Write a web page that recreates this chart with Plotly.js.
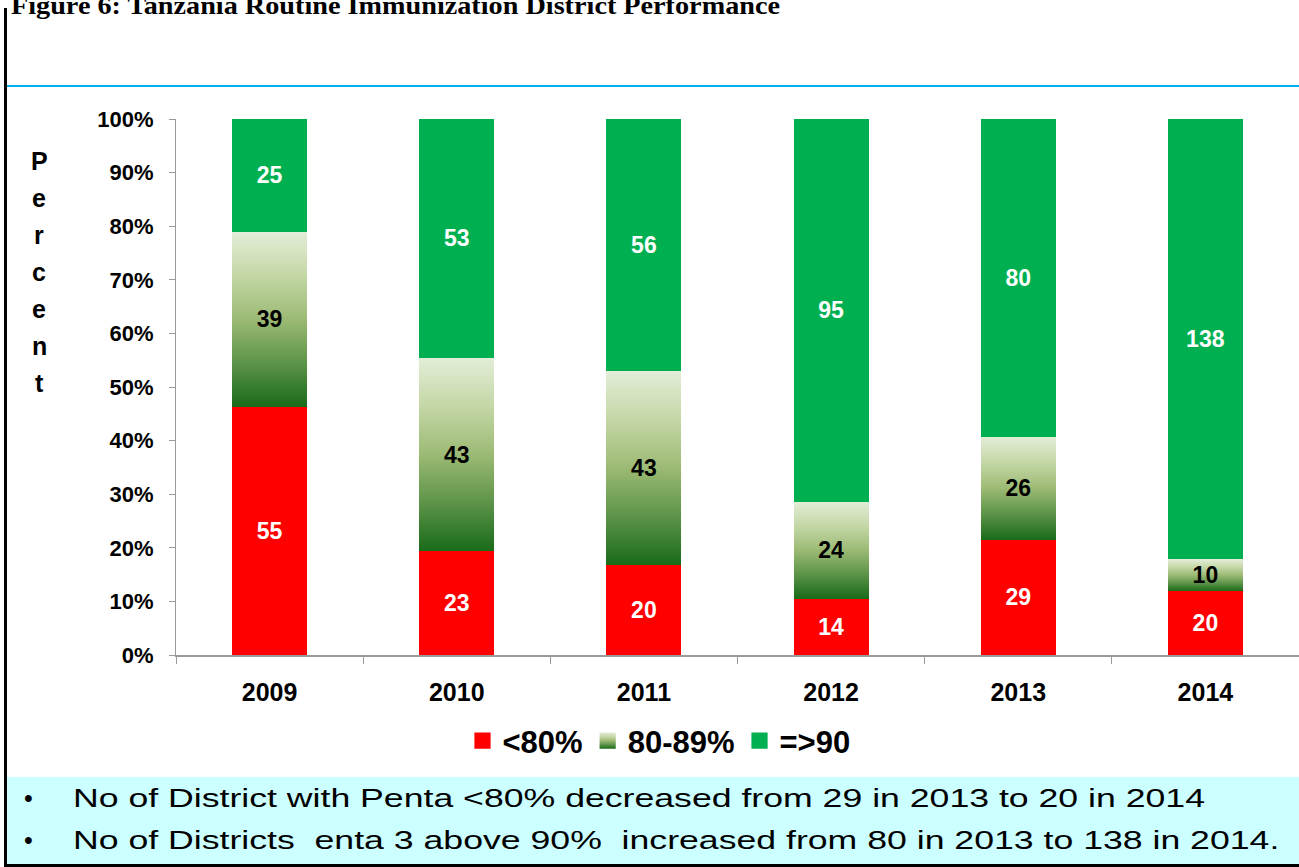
<!DOCTYPE html>
<html>
<head>
<meta charset="utf-8">
<script src="https://cdn.plot.ly/plotly-3.0.1.min.js"></script>
<style>
  html, body { margin:0; padding:0; background:#fff; }
  #wrap { position:relative; width:1299px; height:867px; overflow:hidden; background:#fff; }
  #title { position:absolute; left:11px; top:-7px; line-height:26px; font-family:"Liberation Serif", serif; font-weight:bold; font-size:26px; color:#000; white-space:nowrap; transform-origin:0 0; }
  #leftbar { position:absolute; left:4px; top:8px; width:3px; height:859px; background:#000; }
  #blueline { position:absolute; left:7px; top:85px; width:1292px; height:2px; background:#00b0f0; }
  #note { position:absolute; left:7px; top:777px; width:1292px; height:87px; background:#ccffff; }
  #bottomline { position:absolute; left:4px; top:864px; width:1295px; height:3px; background:#000; }
  .ln { position:absolute; font-family:"Liberation Sans", Arial, sans-serif; font-size:25px; line-height:25px; color:#000; white-space:pre; transform-origin:0 0; }
  #chart { position:absolute; left:0; top:0; width:1299px; height:867px; }
</style>
</head>
<body>
<div id="wrap">
  <div id="note">
    <div class="ln" style="left:17px; top:9px">•</div>
    <div class="ln" style="left:17px; top:51px">•</div>
    <div class="ln" id="l1" style="left:66px; top:9px">No of District with Penta &lt;80% decreased from 29 in 2013 to 20 in 2014</div>
    <div class="ln" id="l2" style="left:66px; top:51px">No of Districts  enta 3 above 90%  increased from 80 in 2013 to 138 in 2014.</div>
  </div>
  <div id="bottomline"></div>
  <div id="leftbar"></div>
  <div id="blueline"></div>
  <div id="title">Figure 6: Tanzania Routine Immunization District Performance</div>
  <div id="chart"></div>
</div>
<script>
const years = ['2009', '2010', '2011', '2012', '2013', '2014'];
const below80 = [55, 23, 20, 14, 29, 20];
const mid80to89 = [39, 43, 43, 24, 26, 10];
const above90 = [25, 53, 56, 95, 80, 138];
const seriesNames = ['<80%', '80-89%', '=>90'];
const yTitleLetters = ['P', 'e', 'r', 'c', 'e', 'n', 't'];

// stretch texts horizontally to match reference widths
function fitWidth(id, target) {
  const el = document.getElementById(id);
  const w = el.getBoundingClientRect().width;
  if (w > 0) el.style.transform = 'scaleX(' + (target / w) + ')';
  return target / w;
}
fitWidth('title', 769);
const s1 = fitWidth('l1', 1132);
document.getElementById('l2').style.transform = 'scaleX(' + s1 + ')';

const W = 1299, H = 867;
const mL = 176, mR = 0, mT = 119, mB = 212;
const pw = W - mL - mR, ph = H - mT - mB;
function px2x(px) { return (px - mL) / pw; }
function py2y(py) { return (H - mB - py) / ph; }

const ff = 'Liberation Sans, Arial, sans-serif';
const labelFont = {family: ff, size: 23, weight: 'bold'};
function barTrace(i, vals, color, txtColor) {
  return {type: 'bar', name: seriesNames[i], x: years, y: vals, text: vals.map(String),
    marker: {color: color}, textposition: 'inside', insidetextanchor: 'middle', constraintext: 'none',
    textangle: 0, textfont: Object.assign({}, labelFont, {color: txtColor}), hoverinfo: 'none'};
}
const traces = [
  barTrace(0, below80, '#ff0000', '#ffffff'),
  barTrace(1, mid80to89, '#8fb063', '#000000'),
  barTrace(2, above90, '#00b050', '#ffffff')
];

const annotations = yTitleLetters.map((ch, i) => ({
  text: ch, xref: 'paper', yref: 'paper',
  x: px2x(39), y: py2y(161 + i * 37), xanchor: 'center', yanchor: 'middle',
  showarrow: false, font: {family: ff, size: 25, weight: 'bold', color: '#000'}
}));

const layout = {
  width: W, height: H,
  margin: {l: mL, r: mR, t: mT, b: mB},
  paper_bgcolor: 'rgba(0,0,0,0)', plot_bgcolor: 'rgba(0,0,0,0)',
  barmode: 'stack', barnorm: 'percent', bargap: 0.6,
  uniformtext: {mode: false},
  font: {family: ff, color: '#000'},
  showlegend: true,
  legend: {orientation: 'h', x: px2x(659), xanchor: 'center', y: py2y(741), yanchor: 'middle',
           font: {size: 31, family: ff, weight: 'bold', color: '#000'},
           traceorder: 'normal', bgcolor: 'rgba(0,0,0,0)'},
  xaxis: {type: 'category', showline: true, linecolor: '#9a9a9a', linewidth: 2,
          ticks: 'outside', tickson: 'boundaries', ticklen: 7, tickcolor: '#9a9a9a',
          tickfont: {size: 25, weight: 'bold', color: '#000'}, ticklabelstandoff: 14,
          showgrid: false, fixedrange: true},
  yaxis: {range: [0, 100], dtick: 10, ticksuffix: '%', showline: true, linecolor: '#9a9a9a', linewidth: 1,
          ticks: 'outside', ticklen: 6, tickcolor: '#9a9a9a', showgrid: false, zeroline: false,
          tickfont: {size: 22, weight: 'bold', color: '#000'}, ticklabelstandoff: 11, fixedrange: true},
  annotations: annotations
};

Plotly.newPlot('chart', traces, layout, {staticPlot: true, displayModeBar: false}).then(gd => {
  const svg = gd.querySelector('svg.main-svg');
  const ns = 'http://www.w3.org/2000/svg';
  let defs = svg.querySelector('defs');
  if (!defs) { defs = document.createElementNS(ns, 'defs'); svg.insertBefore(defs, svg.firstChild); }
  const lg = document.createElementNS(ns, 'linearGradient');
  lg.setAttribute('id', 'midGrad');
  lg.setAttribute('x1', '0'); lg.setAttribute('y1', '0'); lg.setAttribute('x2', '0'); lg.setAttribute('y2', '1');
  [['0', '#e3edd8'], ['0.25', '#c4d7a6'], ['0.5', '#9cba74'], ['0.75', '#5c9348'], ['1', '#196b19']].forEach(([o, c]) => {
    const s = document.createElementNS(ns, 'stop');
    s.setAttribute('offset', o); s.setAttribute('stop-color', c);
    lg.appendChild(s);
  });
  defs.appendChild(lg);
  const bars = gd.querySelectorAll('.barlayer .trace.bars');
  if (bars[1]) bars[1].querySelectorAll('path').forEach(p => { p.style.fill = 'url(#midGrad)'; });
  const legItems = gd.querySelectorAll('.legend .traces');
  legItems.forEach((item, i) => {
    item.querySelectorAll('.legendpoints path').forEach(p => {
      const t = p.getAttribute('transform') || '';
      p.setAttribute('transform', t + ' scale(1.35)');
      if (i === 1) p.style.fill = 'url(#midGrad)';
    });
  });
});
</script>
</body>
</html>
